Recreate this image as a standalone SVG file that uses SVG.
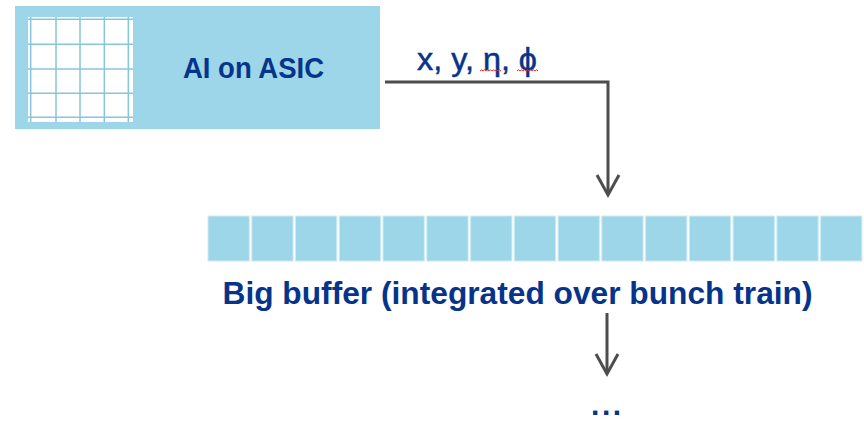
<svg xmlns="http://www.w3.org/2000/svg" width="864" height="421" viewBox="0 0 864 421">
  <style>
    .label { font-family: "Liberation Sans", Arial, sans-serif; fill: #06348a; }
    .bold { font-weight: bold; }
    .medium { stroke: #06348a; stroke-width: 0.5; }
    .chip { fill: #9cd6e8; }
    .cell { fill: #9cd6e8; stroke: #cdebf4; stroke-width: 1; }
    .gridline { stroke: #86c6dd; stroke-width: 1.5; }
    .wire { fill: none; stroke: #4d4d4d; stroke-width: 3; }
    .squiggle { fill: none; stroke: #e8302a; stroke-width: 1; }
  </style>
  <defs>
    <marker id="chevron" markerUnits="userSpaceOnUse" viewBox="-24 -14 28 28" refX="0" refY="0" markerWidth="28" markerHeight="28" orient="auto">
      <path d="M-20,-11 L0,0 L-20,11" fill="none" stroke="#4d4d4d" stroke-width="3"/>
    </marker>
  </defs>

  <rect width="864" height="421" fill="#ffffff"/>

  <!-- ASIC block with pixel matrix -->
  <g id="asic">
    <rect class="chip" x="15" y="6" width="365" height="123"/>
    <rect x="28" y="17" width="105" height="105" fill="#ffffff"/>
    <g class="gridline">
      <line x1="30.7" y1="17" x2="30.7" y2="122"/>
      <line x1="56" y1="17" x2="56" y2="122"/>
      <line x1="80" y1="17" x2="80" y2="122"/>
      <line x1="104.3" y1="17" x2="104.3" y2="122"/>
      <line x1="128.3" y1="17" x2="128.3" y2="122"/>
      <line x1="28" y1="19.3" x2="133" y2="19.3"/>
      <line x1="28" y1="44.3" x2="133" y2="44.3"/>
      <line x1="28" y1="69" x2="133" y2="69"/>
      <line x1="28" y1="93.3" x2="133" y2="93.3"/>
      <line x1="28" y1="117.3" x2="133" y2="117.3"/>
    </g>
    <text class="label bold" x="183" y="78" font-size="29" textLength="141" lengthAdjust="spacingAndGlyphs">AI on ASIC</text>
  </g>

  <!-- Buffer of 15 slots -->
  <g id="buffer">
    <rect class="cell" x="208" y="216" width="41.3" height="45"/>
    <rect class="cell" x="251.8" y="216" width="41.3" height="45"/>
    <rect class="cell" x="295.5" y="216" width="41.3" height="45"/>
    <rect class="cell" x="339.3" y="216" width="41.3" height="45"/>
    <rect class="cell" x="383" y="216" width="41.3" height="45"/>
    <rect class="cell" x="426.8" y="216" width="41.3" height="45"/>
    <rect class="cell" x="470.6" y="216" width="41.3" height="45"/>
    <rect class="cell" x="514.3" y="216" width="41.3" height="45"/>
    <rect class="cell" x="558.1" y="216" width="41.3" height="45"/>
    <rect class="cell" x="601.8" y="216" width="41.3" height="45"/>
    <rect class="cell" x="645.6" y="216" width="41.3" height="45"/>
    <rect class="cell" x="689.4" y="216" width="41.3" height="45"/>
    <rect class="cell" x="733.1" y="216" width="41.3" height="45"/>
    <rect class="cell" x="776.9" y="216" width="41.3" height="45"/>
    <rect class="cell" x="820.6" y="216" width="41.3" height="45"/>
    <text class="label bold" x="222.5" y="303.5" font-size="31" textLength="590" lengthAdjust="spacingAndGlyphs">Big buffer (integrated over bunch train)</text>
  </g>

  <!-- Continuation -->
  <g id="next">
    <text class="label bold" x="591" y="415" font-size="30" letter-spacing="2.6">...</text>
  </g>

  <!-- Connectors -->
  <g id="connectors">
    <path class="wire" d="M385,82 H608 V195" marker-end="url(#chevron)"/>
    <text class="label medium" x="417" y="69.5" font-size="31" textLength="120" lengthAdjust="spacingAndGlyphs">x, y, η, ϕ</text>
    <path class="squiggle" d="M480,71 l1.5,-1.2 l1.5,1.2 l1.5,-1.2 l1.5,1.2 l1.5,-1.2 l1.5,1.2 l1.5,-1.2 l1.5,1.2 l1.5,-1.2 l1.5,1.2 l1.5,-1.2 l1.5,1.2 l1.5,-1.2 l1.5,1.2"/>
    <path class="squiggle" d="M517,71 l1.5,-1.2 l1.5,1.2 l1.5,-1.2 l1.5,1.2 l1.5,-1.2 l1.5,1.2 l1.5,-1.2 l1.5,1.2 l1.5,-1.2 l1.5,1.2 l1.5,-1.2 l1.5,1.2 l1.5,-1.2 l1.5,1.2"/>
    <path class="wire" d="M607,313 V374" marker-end="url(#chevron)"/>
  </g>
</svg>
